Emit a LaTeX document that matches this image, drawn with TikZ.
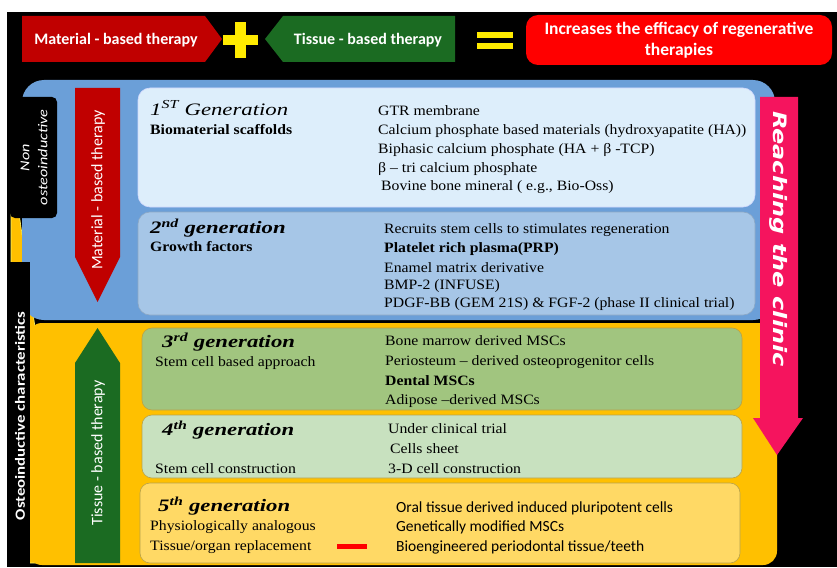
\documentclass[tikz,border=0pt]{standalone}
\usepackage{fontspec}
\setmainfont[FakeStretch=1.1]{Liberation Serif}
\newfontfamily\carlito{Carlito}
\newfontfamily\carlitowide[FakeStretch=1.2]{Carlito}
\newfontfamily\titlefont[FakeStretch=1.3]{Liberation Serif}
\newfontfamily\dvswide[FakeStretch=1.3]{DejaVu Sans}
\definecolor{matred}{HTML}{C00000}
\definecolor{tisgreen}{HTML}{1B6B22}
\definecolor{plusyel}{HTML}{FFEB00}
\definecolor{effred}{HTML}{FF0000}
\definecolor{bluepanel}{HTML}{6B9FD8}
\definecolor{gen1}{HTML}{DDEEFB}
\definecolor{gen2}{HTML}{A6C6E7}
\definecolor{yelpanel}{HTML}{FFC000}
\definecolor{gen3}{HTML}{A1C57F}
\definecolor{gen4}{HTML}{C8E1BF}
\definecolor{gen5}{HTML}{FFD965}
\definecolor{clinic}{HTML}{F5145E}
\definecolor{olive}{HTML}{B8A24A}
\tikzset{
  toptxt/.style={text=white, font=\carlito\bfseries\fontsize{16}{18}\selectfont, inner sep=0pt, align=center},
  gentitle/.style={anchor=west, inner sep=0pt, font=\titlefont\fontsize{17.5}{19}\selectfont\bfseries\itshape},
  body/.style={anchor=west, inner sep=0pt, font=\fontsize{14.3}{16}\selectfont},
  bodyb/.style={body, font=\fontsize{14.3}{16}\selectfont\bfseries},
  sbody/.style={anchor=west, inner sep=0pt, font=\carlito\fontsize{15.5}{17}\selectfont},
  vtxt/.style={text=white, inner sep=0pt, font=\carlito\fontsize{16}{18}\selectfont, rotate=90},
  genbox/.style={rounded corners=12pt, line width=0.6pt},
}
\begin{document}
\begin{tikzpicture}[x=1pt,y=-1pt]
\useasboundingbox (0,0) rectangle (837,567);
\fill[white] (0,0) rectangle (837,567);
\fill[black] (7,12) rectangle (837,567);

% ---- top row ----
\fill[matred] (22,16) -- (205,16) -- (222,39) -- (205,62) -- (22,62) -- cycle;
\node[toptxt] (tmat) at (116,40) {Material - based therapy};
\fill[plusyel] (235,22) rectangle (246,58);
\fill[plusyel] (223,35) rectangle (258,45);
\fill[tisgreen] (265,39) -- (283,16) -- (455,16) -- (455,62) -- (283,62) -- cycle;
\node[toptxt] (ttis) at (368,40) {Tissue - based therapy};
\fill[plusyel] (477,32) rectangle (513,38);
\fill[plusyel] (477,43) rectangle (513,49);
\node[fill=effred, rounded corners=12pt, minimum width=306pt, minimum height=50pt, inner sep=0pt] (eff) at (679,40) {};
\node[toptxt, font=\carlito\bfseries\fontsize{17.5}{21}\selectfont] (efftxt) at (679,40) {Increases the efficacy of regenerative\\therapies};

% ---- osteoinductive wedge ----
\filldraw[fill=yelpanel, draw=yellow!60!white, line width=0.6pt] (11,213) -- (19,213) -- (68,563) -- (11,563) -- cycle;

% ---- panels ----
\fill[bluepanel, rounded corners=22pt] (22,80) rectangle (775,320);
\fill[yelpanel, rounded corners=14pt] (28,323) rectangle (777,565);

% ---- left labels ----
\fill[black] (9,262) rectangle (30,567);
\node[text=white, inner sep=0pt, rotate=90, font=\carlitowide\bfseries\fontsize{14}{16}\selectfont] (osteo) at (20,416) {Osteoinductive characteristics};
\node[fill=black, rounded corners=5pt, minimum width=47pt, minimum height=121pt, inner sep=0pt] (nonbox) at (33.5,157.5) {};
\node[text=white, inner sep=0pt, rotate=90, align=center, font=\carlitowide\itshape\fontsize{13.5}{18}\selectfont] (nontxt) at (34,157.5) {Non\\osteoinductive};

% ---- vertical therapy arrows ----
\fill[matred] (75,88) -- (120,88) -- (120,257) -- (97.5,302) -- (75,257) -- cycle;
\node[vtxt] (vmat) at (98,190) {Material - based therapy};
\fill[tisgreen] (75,563) -- (120,563) -- (120,363) -- (97.5,328) -- (75,363) -- cycle;
\node[vtxt] (vtis) at (98,453) {Tissue - based therapy};

% ---- generation boxes ----
\filldraw[genbox, fill=gen1, draw=gen1!80!blue!60!white] (138,88) rectangle (755,207);
\filldraw[genbox, fill=gen2, draw=gen2!85!black] (138,212) rectangle (755,315);
\filldraw[genbox, rounded corners=10pt, fill=gen3, draw=olive] (142,328) rectangle (742,410);
\filldraw[genbox, rounded corners=10pt, fill=gen4, draw=olive] (142,415) rectangle (742,478);
\filldraw[genbox, rounded corners=10pt, fill=gen5, draw=olive] (140,483) rectangle (740,563);

% ---- reaching the clinic ----
\fill[clinic] (760,97) -- (798,97) -- (798,418) -- (803,418) -- (777,455) -- (753,418) -- (760,418) -- cycle;
\node[text=white, inner sep=0pt, rotate=-90, font=\dvswide\bfseries\itshape\fontsize{18.5}{20}\selectfont] (clin) at (779,239) {Reaching the clinic};

% ---- gen 1 ----
\node[gentitle, font=\titlefont\fontsize{17.5}{19}\selectfont\itshape] (g1) at (150,108) {1\textsuperscript{ST} Generation};
\node[bodyb] (g1a) at (150,130) {Biomaterial scaffolds};
\node[body] (g1r1) at (378,111) {GTR membrane};
\node[body] (g1r2) at (378,131) {Calcium phosphate based materials (hydroxyapatite (HA))};
\node[body] (g1r3) at (378,150) {Biphasic calcium phosphate (HA + β -TCP)};
\node[body] (g1r4) at (378,169) {β – tri calcium phosphate};
\node[body] (g1r5) at (381,187) {Bovine bone mineral ( e.g., Bio-Oss)};

% ---- gen 2 ----
\node[gentitle] (g2) at (150,228) {2\textsuperscript{nd} generation};
\node[bodyb] (g2a) at (150,247) {Growth factors};
\node[body] (g2r1) at (384,230) {Recruits stem cells to stimulates regeneration};
\node[bodyb] (g2r2) at (384,249) {Platelet rich plasma(PRP)};
\node[body] (g2r3) at (384,268) {Enamel matrix derivative};
\node[body] (g2r4) at (384,286) {BMP-2 (INFUSE)};
\node[body] (g2r5) at (384,304) {PDGF-BB (GEM 21S) \& FGF-2 (phase II clinical trial)};

% ---- gen 3 ----
\node[gentitle] (g3) at (162,342) {3\textsuperscript{rd} generation};
\node[body] (g3a) at (155,363) {Stem cell based approach};
\node[body] (g3r1) at (385,341) {Bone marrow derived MSCs};
\node[body] (g3r2) at (385,362) {Periosteum – derived osteoprogenitor cells};
\node[bodyb] (g3r3) at (385,381) {Dental MSCs};
\node[body] (g3r4) at (385,401) {Adipose –derived MSCs};

% ---- gen 4 ----
\node[gentitle] (g4) at (162,430) {4\textsuperscript{th} generation};
\node[body] (g4a) at (155,469) {Stem cell construction};
\node[body] (g4r1) at (388,429) {Under clinical trial};
\node[body] (g4r2) at (390,449) {Cells sheet};
\node[body] (g4r3) at (388,469) {3-D cell construction};

% ---- gen 5 ----
\node[gentitle] (g5) at (158,506) {5\textsuperscript{th} generation};
\node[body] (g5a) at (150,527) {Physiologically analogous};
\node[body] (g5b) at (150,547) {Tissue/organ replacement};
\coordinate (dashA) at (337,546);
\coordinate (dashB) at (367,546);
\draw[effred, line width=5pt] (dashA) -- (dashB);
\node[sbody] (g5r1) at (396,508) {Oral tissue derived induced pluripotent cells};
\node[sbody] (g5r2) at (396,527) {Genetically modified MSCs};
\node[sbody] (g5r3) at (396,547) {Bioengineered periodontal tissue/teeth};
\end{tikzpicture}
\end{document}
